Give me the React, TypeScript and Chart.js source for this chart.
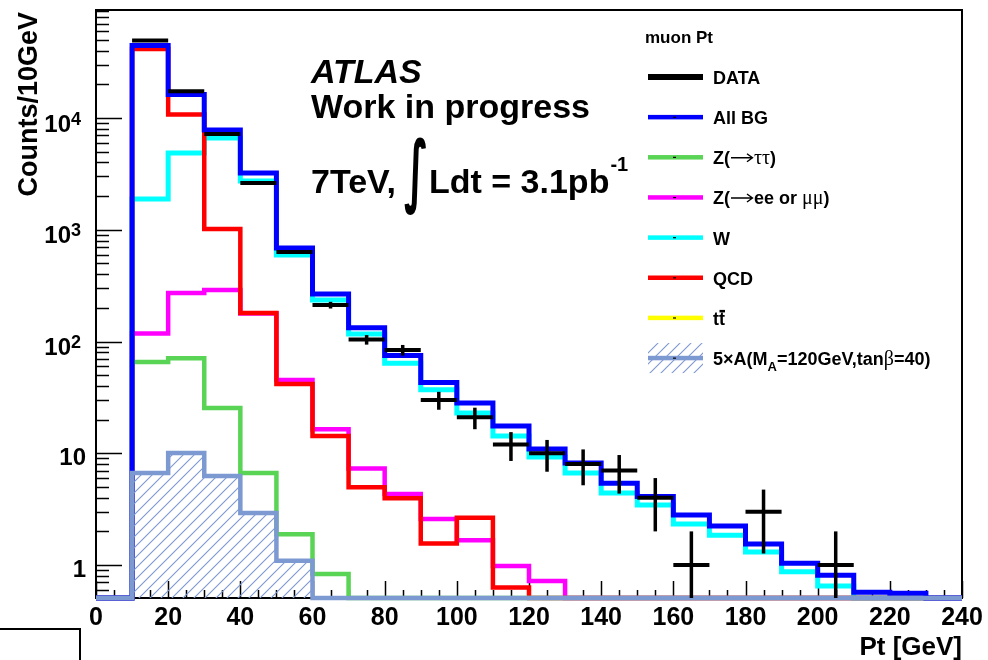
import React, { useEffect, useRef } from "react";
import { Chart, registerables } from "chart.js";

Chart.register(...registerables);

// ---------- data (bins of 10 GeV, low edges) ----------
const binLowEdges = [0, 10, 20, 30, 40, 50, 60, 70, 80, 90, 100, 110, 120, 130, 140, 150, 160, 170, 180, 190, 200, 210, 220, 230];
const binUpperLimit = 240;

const dataCounts = [0, 49400, 17400, 7190, 2620, 632, 212, 104, 84, 30, 21, 12, 10, 8, 7, 4, 1, 0, 3, 0, 1, 0, 0, 0];
const allBG = [0, 44500, 16200, 7810, 3220, 687, 266, 133, 75, 43, 28.2, 17.5, 10.9, 8.2, 5.4, 4.1, 2.8, 2.23, 1.54, 1.04, 0.81, 0.57, 0.56, 0];
const zTauTau = [0, 65.6, 71, 25.4, 6.65, 1.89, 0.83, 0, 0, 0, 0, 0, 0, 0, 0, 0, 0, 0, 0, 0, 0, 0, 0, 0];
const zEeMuMu = [0, 118, 272, 289, 178, 45.2, 16.4, 7.3, 4.32, 2.58, 1.67, 0.98, 0.72, 0, 0, 0, 0, 0, 0, 0, 0, 0, 0, 0];
const wJets = [0, 1885, 4860, 6620, 2730, 594, 235, 117, 64, 37, 22.9, 14.3, 9.25, 6.65, 4.41, 3.44, 2.33, 1.85, 1.31, 0.87, 0.65, 0, 0, 0];
const qcd = [0, 41400, 10750, 1015, 180, 41.7, 14.3, 4.96, 3.95, 1.56, 2.65, 0.63, 0, 0, 0, 0, 0, 0, 0, 0, 0, 0, 0, 0];
const ttbar = [0, 0, 0, 0, 0, 0, 0, 0, 0, 0, 0, 0, 0, 0, 0, 0, 0, 0, 0, 0, 0, 0, 0, 0];
const signal5xA = [0, 6.65, 10.05, 6.26, 2.92, 1.09, 0, 0, 0, 0, 0, 0, 0, 0, 0, 0, 0, 0, 0, 0, 0, 0, 0, 0];

const yMin = 0.507;
const yMax = 92600;
const xMin = 0;
const xMax = 240;

const xTickLabels = ["0", "20", "40", "60", "80", "100", "120", "140", "160", "180", "200", "220", "240"];
const xTickValues = [0, 20, 40, 60, 80, 100, 120, 140, 160, 180, 200, 220, 240];
const yTickValues = [1, 10, 100, 1000, 10000];
const yTickBase = ["1", "10", "10", "10", "10"];
const yTickSup = ["", "", "2", "3", "4"];

const legendTitle = "muon Pt";
const legendLabels = [
  [{ t: "DATA" }],
  [{ t: "All BG" }],
  [{ t: "Z(" }, { arrow: true }, { t: "ττ", greek: true }, { t: ")" }],
  [{ t: "Z(" }, { arrow: true }, { t: "ee or " }, { t: "μμ", greek: true }, { t: ")" }],
  [{ t: "W" }],
  [{ t: "QCD" }],
  [{ t: "t" }, { t: "t", bar: true }],
  [{ t: "5×A(M" }, { t: "A", sub: true }, { t: "=120GeV,tan" }, { t: "β", greek: true }, { t: "=40)" }],
];

const xTitle = "Pt [GeV]";
const yTitle = "Counts/10GeV";

// ---------- styles ----------
const F = "'Liberation Sans', Arial, Helvetica, sans-serif";
const FS = "'Liberation Serif', 'DejaVu Serif', serif";
const C_BLUE = "#0000ff";
const C_GREEN = "#59d454";
const C_MAGENTA = "#ff00ff";
const C_CYAN = "#00ffff";
const C_RED = "#ff0000";
const C_YELLOW = "#ffff00";
const C_SLATE = "#7d99d1";

const legendStyles = [
  { color: "#000000", width: 6, marker: false, hatch: false },
  { color: C_BLUE, width: 4.5, marker: true, hatch: false },
  { color: C_GREEN, width: 4.5, marker: true, hatch: false },
  { color: C_MAGENTA, width: 4.5, marker: true, hatch: false },
  { color: C_CYAN, width: 4.5, marker: true, hatch: false },
  { color: C_RED, width: 4.5, marker: true, hatch: false },
  { color: C_YELLOW, width: 4.5, marker: true, hatch: false },
  { color: C_SLATE, width: 4.5, marker: true, hatch: true },
];

function stepPoints(values: number[]) {
  const pts = binLowEdges.map((x, i) => ({ x, y: Math.max(values[i], yMin) }));
  pts.push({ x: binUpperLimit, y: pts[pts.length - 1].y });
  return pts;
}

function makeHatch(ctx: CanvasRenderingContext2D) {
  const c = document.createElement("canvas");
  c.width = 11;
  c.height = 11;
  const g = c.getContext("2d")!;
  g.strokeStyle = C_SLATE;
  g.lineWidth = 1.1;
  g.beginPath();
  g.moveTo(-1, 12);
  g.lineTo(12, -1);
  g.moveTo(-1, 1);
  g.lineTo(1, -1);
  g.moveTo(10, 12);
  g.lineTo(12, 10);
  g.stroke();
  return ctx.createPattern(c, "repeat")!;
}

function drawRich(ctx: CanvasRenderingContext2D, segs: any[], x: number, y: number, size: number) {
  let cx = x;
  for (const s of segs) {
    if (s.arrow) {
      const w = 24;
      const ay = y - 6.5;
      ctx.save();
      ctx.strokeStyle = "#000";
      ctx.lineWidth = 1.4;
      ctx.beginPath();
      ctx.moveTo(cx + 1, ay);
      ctx.lineTo(cx + w - 2, ay);
      ctx.moveTo(cx + w - 7, ay - 4);
      ctx.lineTo(cx + w - 1.5, ay);
      ctx.lineTo(cx + w - 7, ay + 4);
      ctx.stroke();
      ctx.restore();
      cx += w;
    } else if (s.sub) {
      ctx.font = `bold ${Math.round(size * 0.7)}px ${F}`;
      ctx.fillText(s.t, cx, y + 6);
      cx += ctx.measureText(s.t).width;
    } else if (s.greek) {
      ctx.font = `${size + 2}px ${FS}`;
      ctx.fillText(s.t, cx, y);
      cx += ctx.measureText(s.t).width;
    } else {
      ctx.font = `bold ${size}px ${F}`;
      ctx.fillText(s.t, cx, y);
      const w = ctx.measureText(s.t).width;
      if (s.bar) {
        ctx.save();
        ctx.fillStyle = "#000";
        ctx.fillRect(cx + 0.5, y - 15, w - 0.5, 2.5);
        ctx.restore();
      }
      cx += w;
    }
  }
}

const rootPlugin = {
  id: "rootStyle",
  beforeDatasetsDraw(chart: any) {
    const ctx: CanvasRenderingContext2D = chart.ctx;
    const { left, right, top, bottom } = chart.chartArea;
    const xs = chart.scales.x;
    const ys = chart.scales.y;
    ctx.save();
    ctx.strokeStyle = "#000";
    ctx.lineWidth = 2;
    ctx.strokeRect(left, top, right - left, bottom - top);
    ctx.lineWidth = 1.5;
    ctx.beginPath();
    for (let d = -1; d <= 4; d++) {
      for (let m = 1; m <= 9; m++) {
        const v = m * Math.pow(10, d);
        if (v < yMin || v > yMax) continue;
        const y = Math.round(ys.getPixelForValue(v)) + 0.5;
        const len = m === 1 ? 26 : 13;
        ctx.moveTo(left, y);
        ctx.lineTo(left + len, y);
      }
    }
    for (let v = xMin; v <= xMax; v += 5) {
      const x = Math.round(xs.getPixelForValue(v)) + 0.5;
      const len = v % 20 === 0 ? 17 : 8;
      ctx.moveTo(x, bottom);
      ctx.lineTo(x, bottom - len);
    }
    ctx.stroke();
    ctx.restore();
  },
  afterDatasetsDraw(chart: any) {
    const ctx: CanvasRenderingContext2D = chart.ctx;
    const { bottom } = chart.chartArea;
    const xs = chart.scales.x;
    const ys = chart.scales.y;
    ctx.save();
    ctx.strokeStyle = "#000";
    ctx.lineCap = "butt";
    dataCounts.forEach((n, i) => {
      if (n <= 0) return;
      const lo = binLowEdges[i];
      const hi = i + 1 < binLowEdges.length ? binLowEdges[i + 1] : binUpperLimit;
      const xl = xs.getPixelForValue(lo);
      const xh = xs.getPixelForValue(hi);
      const xc = xs.getPixelForValue((lo + hi) / 2);
      const y = ys.getPixelForValue(n);
      const err = Math.sqrt(n);
      const yUp = ys.getPixelForValue(n + err);
      const yDn = n - err > yMin ? ys.getPixelForValue(n - err) : bottom;
      ctx.lineWidth = 4;
      ctx.beginPath();
      ctx.moveTo(xl, y);
      ctx.lineTo(xh, y);
      ctx.stroke();
      ctx.lineWidth = 3.5;
      ctx.beginPath();
      ctx.moveTo(xc, yUp);
      ctx.lineTo(xc, yDn);
      ctx.stroke();
    });
    ctx.restore();
  },
  afterDraw(chart: any) {
    const ctx: CanvasRenderingContext2D = chart.ctx;
    const { right } = chart.chartArea;
    const xs = chart.scales.x;
    const ys = chart.scales.y;
    ctx.save();
    ctx.fillStyle = "#000";
    ctx.textBaseline = "alphabetic";

    ctx.font = `bold 25px ${F}`;
    ctx.textAlign = "center";
    xTickValues.forEach((v, i) => {
      ctx.fillText(xTickLabels[i], xs.getPixelForValue(v), 625);
    });

    yTickValues.forEach((v, i) => {
      const y = ys.getPixelForValue(v);
      if (yTickSup[i]) {
        ctx.font = `bold 24px ${F}`;
        ctx.textAlign = "right";
        ctx.fillText(yTickBase[i], 71, y + 13.5);
        ctx.font = `bold 18px ${F}`;
        ctx.textAlign = "left";
        ctx.fillText(yTickSup[i], 71, y + 6.5);
      } else {
        ctx.font = `bold 24px ${F}`;
        ctx.textAlign = "right";
        ctx.fillText(yTickBase[i], 86, y + 12);
      }
    });

    ctx.font = `bold 26px ${F}`;
    ctx.textAlign = "right";
    ctx.fillText(xTitle, right, 655);
    ctx.save();
    ctx.translate(37, 12);
    ctx.rotate(-Math.PI / 2);
    ctx.font = `bold 27px ${F}`;
    ctx.textAlign = "right";
    ctx.fillText(yTitle, 0, 0);
    ctx.restore();

    ctx.textAlign = "left";
    ctx.font = `italic bold 34px ${F}`;
    ctx.fillText("ATLAS", 311, 83);
    ctx.font = `bold 34px ${F}`;
    ctx.fillText("Work in progress", 311, 118);
    ctx.fillText("7TeV,", 311, 193);
    ctx.save();
    ctx.font = `bold 60px 'DejaVu Sans', sans-serif`;
    const m = ctx.measureText("∫");
    const gw = m.actualBoundingBoxLeft + m.actualBoundingBoxRight;
    const gh = m.actualBoundingBoxAscent + m.actualBoundingBoxDescent;
    ctx.translate(404, 136);
    ctx.scale(22 / gw, 79 / gh);
    ctx.fillText("∫", m.actualBoundingBoxLeft, m.actualBoundingBoxAscent);
    ctx.restore();
    ctx.font = `bold 34px ${F}`;
    const lumi = "Ldt = 3.1pb";
    ctx.fillText(lumi, 429, 193);
    const lw = ctx.measureText(lumi).width;
    ctx.font = `bold 20px ${F}`;
    ctx.fillText("-1", 429 + lw + 1, 171);

    ctx.font = `bold 17px ${F}`;
    ctx.fillText(legendTitle, 645, 43);
    const lx0 = 648;
    const lx1 = 703;
    legendLabels.forEach((segs, i) => {
      const st = legendStyles[i];
      const y = 77 + i * 40.15;
      if (st.hatch) {
        ctx.save();
        ctx.fillStyle = makeHatch(ctx);
        ctx.fillRect(lx0, y - 15, lx1 - lx0, 30);
        ctx.restore();
      }
      ctx.fillStyle = st.color;
      ctx.fillRect(lx0, y - st.width / 2, lx1 - lx0, st.width);
      if (st.marker) {
        ctx.fillStyle = "#000";
        ctx.fillRect(673, y - 0.5, 3, 1.2);
      }
      ctx.fillStyle = "#000";
      drawRich(ctx, segs, 713, y + 7, 18);
    });

    ctx.strokeStyle = "#000";
    ctx.lineWidth = 2;
    ctx.beginPath();
    ctx.moveTo(0, 629);
    ctx.lineTo(80, 629);
    ctx.lineTo(80, 662);
    ctx.stroke();
    ctx.restore();
  },
};

export default function App() {
  const ref = useRef<HTMLCanvasElement>(null);
  useEffect(() => {
    const canvas = ref.current!;
    const ctx = canvas.getContext("2d")!;
    const hatch = makeHatch(ctx);
    const common = {
      pointRadius: 0,
      pointHoverRadius: 0,
      stepped: true,
      tension: 0,
      borderJoinStyle: "miter" as const,
      borderCapStyle: "butt" as const,
      clip: 8,
      fill: false,
    };
    const chart = new Chart(canvas, {
      type: "line",
      data: {
        datasets: [
          { ...common, label: "5xA", data: stepPoints(signal5xA), borderColor: C_SLATE, borderWidth: 4.5, fill: "start", backgroundColor: hatch, order: 1 },
          { ...common, label: "All BG", data: stepPoints(allBG), borderColor: C_BLUE, borderWidth: 5, order: 2 },
          { ...common, label: "Z tautau", data: stepPoints(zTauTau), borderColor: C_GREEN, borderWidth: 4.5, order: 3 },
          { ...common, label: "QCD", data: stepPoints(qcd), borderColor: C_RED, borderWidth: 4.5, order: 4 },
          { ...common, label: "Z ee/mumu", data: stepPoints(zEeMuMu), borderColor: C_MAGENTA, borderWidth: 4.5, order: 5 },
          { ...common, label: "W", data: stepPoints(wJets), borderColor: C_CYAN, borderWidth: 5, order: 6 },
          { ...common, label: "ttbar", data: stepPoints(ttbar), borderColor: C_YELLOW, borderWidth: 4.5, order: 7, hidden: true },
        ] as any,
      },
      options: {
        responsive: false,
        animation: false,
        devicePixelRatio: 1,
        events: [],
        layout: { padding: { left: 96, top: 10, right: 26, bottom: 62 } },
        scales: {
          x: { type: "linear", min: xMin, max: xMax, bounds: "data", display: false },
          y: { type: "logarithmic", min: yMin, max: yMax, bounds: "data", display: false },
        },
        plugins: { legend: { display: false }, tooltip: { enabled: false } },
      } as any,
      plugins: [rootPlugin as any],
    });
    return () => chart.destroy();
  }, []);
  return (
    <div style={{ position: "fixed", left: 0, top: 0, width: 988, height: 660, background: "#fff" }}>
      <canvas ref={ref} width={988} height={660} style={{ display: "block" }} />
    </div>
  );
}
